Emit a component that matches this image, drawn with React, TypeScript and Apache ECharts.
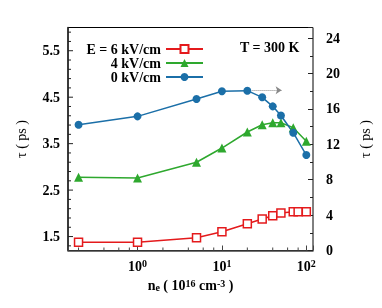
import React, { useEffect, useRef } from "react";
import * as echarts from "echarts";

const seriesNames = ["E = 6 kV/cm", "4 kV/cm", "0 kV/cm"];
const xRed = [0.2, 1, 5, 10, 20, 30, 40, 50, 70, 80, 100];
const yRed = [0.93, 0.93, 1.45, 2.12, 3.03, 3.56, 3.93, 4.24, 4.38, 4.38, 4.38];
const xGreen = [0.2, 1, 5, 10, 20, 30, 40, 50, 70, 100];
const yGreen = [8.27, 8.19, 9.97, 11.58, 13.39, 14.21, 14.44, 14.44, 13.88, 12.35];
const xBlue = [0.2, 1, 5, 10, 20, 30, 40, 50, 70, 100];
const yBlue = [14.21, 15.16, 17.12, 17.99, 18.06, 17.31, 16.29, 15.25, 13.31, 10.79];
const arrowFrom = [23, 18.1];
const arrowTo = [51, 18.1];
const xMinorTicks = [0.2, 0.4, 0.6, 0.8, 2, 4, 6, 8, 20, 40, 60, 80];
const yLeftTicks = [1.3, 1.5, 1.7, 1.9, 2.1, 2.3, 2.5, 2.7, 2.9, 3.1, 3.3, 3.5, 3.7, 3.9, 4.1, 4.3, 4.5, 4.7, 4.9, 5.1, 5.3, 5.5, 5.7, 5.9];

const X_MIN = 0.15;
const X_MAX = 120;
const L_MIN = 1.2;
const L_MAX = 6.0;
const R_MIN = 0;
const R_MAX = 25.2;

const FONT = "'Liberation Serif', 'DejaVu Serif', serif";
const RED = "#e41a1c";
const GREEN = "#2ea82e";
const BLUE = "#1b6fa8";

const zip = (xs: number[], ys: number[]) => xs.map((x, i) => [x, ys[i]]);

export default function App() {
  const ref = useRef<HTMLDivElement>(null);
  useEffect(() => {
    if (!ref.current) return;
    const chart = echarts.init(ref.current, undefined, { renderer: "svg" });
    const supRich = {
      b: { fontFamily: FONT, fontWeight: "bold", fontSize: 14, color: "#000", lineHeight: 16 },
      s: { fontFamily: FONT, fontWeight: "bold", fontSize: 10, color: "#000", verticalAlign: "top", lineHeight: 10 },
    };
    const option: any = {
      animation: false,
      grid: { left: 68, right: 69, top: 27.5, bottom: 57.5, show: true, borderColor: "#000", borderWidth: 1 },
      legend: {
        data: seriesNames,
        orient: "vertical",
        align: "right",
        left: 80,
        top: 37,
        itemWidth: 37,
        itemHeight: 10,
        itemGap: 0,
        selectedMode: false,
        formatter: (name: string) => `{t|${name}}`,
        textStyle: {
          rich: {
            t: { width: 76, align: "right", fontFamily: FONT, fontWeight: "bold", fontSize: 14, color: "#000", lineHeight: 14 },
          },
        },
      },
      xAxis: {
        type: "log",
        logBase: 10,
        min: X_MIN,
        max: X_MAX,
        splitLine: { show: false },
        axisLine: { show: true, lineStyle: { color: "#444", width: 1.5 } },
        axisTick: { show: true, inside: true, length: 5, lineStyle: { color: "#444" } },
        axisLabel: {
          margin: 8,
          formatter: (v: number) => {
            const l = Math.log10(v);
            const r = Math.round(l);
            if (Math.abs(l - r) > 1e-6) return "";
            return `{b|10}{s|${r}}`;
          },
          rich: supRich,
        },
        name: "n{sub|e} ( 10{sup|16} cm{sup|-3} )",
        nameLocation: "middle",
        nameGap: 26,
        nameTextStyle: {
          fontFamily: FONT,
          fontWeight: "bold",
          fontSize: 14,
          color: "#000",
          rich: {
            sub: { fontFamily: FONT, fontWeight: "bold", fontSize: 10, color: "#000", verticalAlign: "bottom", lineHeight: 10 },
            sup: { fontFamily: FONT, fontWeight: "bold", fontSize: 10, color: "#000", verticalAlign: "top", lineHeight: 10 },
          },
        },
      },
      yAxis: [
        {
          type: "value",
          position: "left",
          min: L_MIN,
          max: L_MAX,
          interval: 0.1,
          splitLine: { show: false },
          axisLine: { show: true, lineStyle: { color: "#222", width: 1.5 } },
          axisTick: { show: false },
          axisLabel: {
            margin: 8,
            fontFamily: FONT,
            fontWeight: "bold",
            fontSize: 14,
            color: "#000",
            formatter: (v: number) => (Math.round(v * 10) % 10 === 5 ? v.toFixed(1) : ""),
          },
          name: "τ ( ps )",
          nameLocation: "middle",
          nameRotate: 90,
          nameGap: 40,
          nameTextStyle: { fontFamily: FONT, fontSize: 14, color: "#000" },
        },
        {
          type: "value",
          position: "right",
          min: R_MIN,
          max: R_MAX,
          interval: 4,
          splitLine: { show: false },
          axisLine: { show: false },
          axisTick: { show: true, inside: true, length: 5, lineStyle: { color: "#222" } },
          minorTick: { show: true, splitNumber: 2, length: 3, lineStyle: { color: "#222" } },
          minorSplitLine: { show: false },
          axisLabel: {
            margin: 13,
            fontFamily: FONT,
            fontWeight: "bold",
            fontSize: 14,
            color: "#000",
            formatter: (v: number) => (Math.abs(v % 4) < 1e-6 ? String(v) : ""),
          },
          name: "τ ( ps )",
          nameLocation: "middle",
          nameRotate: 90,
          nameGap: 45,
          nameTextStyle: { fontFamily: FONT, fontSize: 14, color: "#000" },
        },
      ],
      graphic: [
        {
          type: "text",
          left: 240,
          top: 40,
          style: { text: "T = 300 K", fontFamily: FONT, fontWeight: "bold", fontSize: 14, fill: "#000" },
        },
      ],
      series: [
        {
          name: seriesNames[0],
          type: "line",
          yAxisIndex: 1,
          data: zip(xRed, yRed),
          symbol: "rect",
          symbolSize: 8,
          showAllSymbol: true,
          lineStyle: { color: RED, width: 1.5 },
          itemStyle: { color: "#fff", borderColor: RED, borderWidth: 1.5 },
          z: 3,
        },
        {
          name: seriesNames[1],
          type: "line",
          yAxisIndex: 1,
          data: zip(xGreen, yGreen),
          symbol: "triangle",
          symbolSize: 9,
          showAllSymbol: true,
          lineStyle: { color: GREEN, width: 1.5 },
          itemStyle: { color: GREEN, borderColor: GREEN, borderWidth: 0 },
          z: 3,
        },
        {
          name: seriesNames[2],
          type: "line",
          yAxisIndex: 1,
          data: zip(xBlue, yBlue),
          symbol: "circle",
          symbolSize: 8,
          showAllSymbol: true,
          lineStyle: { color: BLUE, width: 1.5 },
          itemStyle: { color: BLUE, borderColor: BLUE, borderWidth: 0 },
          z: 3,
          markLine: {
            silent: true,
            animation: false,
            symbol: ["none", "arrow"],
            symbolSize: 6,
            label: { show: false },
            lineStyle: { type: "dotted", color: "#888", width: 1 },
            data: [[{ coord: arrowFrom }, { coord: arrowTo }]],
          },
        },
        {
          type: "custom",
          yAxisIndex: 0,
          silent: true,
          clip: false,
          data: xMinorTicks.map((x) => [x, L_MIN]),
          renderItem: (params: any, api: any) => {
            const p = api.coord([api.value(0), L_MIN]);
            return {
              type: "line",
              shape: { x1: p[0], y1: p[1], x2: p[0], y2: p[1] - 3 },
              style: { stroke: "#444", lineWidth: 1 },
            };
          },
          z: 2,
        },
        {
          type: "custom",
          yAxisIndex: 0,
          silent: true,
          clip: false,
          data: yLeftTicks.map((v) => [X_MIN, v]),
          renderItem: (params: any, api: any) => {
            const v = api.value(1);
            const p = api.coord([X_MIN, v]);
            const major = Math.round(v * 10) % 10 === 5;
            return {
              type: "line",
              shape: { x1: p[0], y1: p[1], x2: p[0] + (major ? 5 : 3), y2: p[1] },
              style: { stroke: "#222", lineWidth: 1 },
            };
          },
          z: 2,
        },
      ],
    };
    chart.setOption(option);
    return () => chart.dispose();
  }, []);
  return <div ref={ref} style={{ position: "fixed", left: 0, top: 0, width: 382, height: 308 }} />;
}
